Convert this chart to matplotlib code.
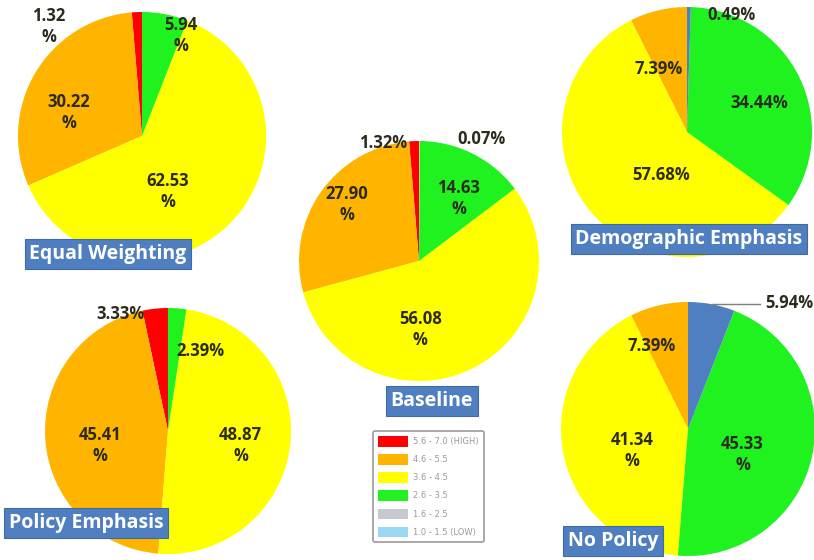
"""Five scenario pies of score classes, with a shared class legend."""

import matplotlib

matplotlib.use("Agg")
import matplotlib.pyplot as plt  # noqa: E402
from matplotlib.patches import Patch  # noqa: E402

W, H = 814, 560

# score classes (legend) and their colours
CLASSES = ["5.6 - 7.0 (HIGH)", "4.6 - 5.5", "3.6 - 4.5", "2.6 - 3.5", "1.6 - 2.5", "1.0 - 1.5 (LOW)"]
CLASS_COLORS = ["#ff0000", "#ffb400", "#ffff00", "#1ff21f", "#c8c8d0", "#9bd8f2"]
OTHER_COLOR = "#4f7fc0"

# scenario values, counter-clockwise from 12 o'clock
equal_vals = [1.32, 30.22, 62.53, 5.94]
equal_cls = [0, 1, 2, 3]
baseline_vals = [1.32, 27.90, 56.08, 14.63, 0.07]
baseline_cls = [0, 1, 2, 3, 4]
demo_vals = [7.39, 57.68, 34.44, 0.49]
demo_cls = [1, 2, 3, -1]
policy_vals = [3.33, 45.41, 48.87, 2.39]
policy_cls = [0, 1, 2, 3]
nopolicy_vals = [7.39, 41.34, 45.33, 5.94]
nopolicy_cls = [1, 2, 3, -1]

# layout: name, values, classes, centre (px, from top-left), radius,
# label offsets in radius units, which labels wrap the "%", title box (x, y centre)
PIES = [
    ("Equal Weighting", equal_vals, equal_cls, (142, 136), 124,
     [(-0.75, 0.88), (-0.59, 0.19), (0.21, -0.45), (0.31, 0.81)],
     [True, True, True, True], (108, 254)),
    ("Baseline", baseline_vals, baseline_cls, (419, 261), 120,
     [(-0.30, 0.98), (-0.60, 0.47), (0.01, -0.57), (0.33, 0.52), (0.52, 1.02)],
     [False, True, True, True, False], (432, 401)),
    ("Demographic Emphasis", demo_vals, demo_cls, (687, 132), 125,
     [(-0.23, 0.50), (-0.21, -0.34), (0.58, 0.23), (0.36, 0.94)],
     [False, False, False, False], (689, 239)),
    ("Policy Emphasis", policy_vals, policy_cls, (168, 431), 123,
     [(-0.39, 0.95), (-0.55, -0.12), (0.59, -0.12), (0.26, 0.65)],
     [False, True, True, False], (86, 523)),
    ("No Policy", nopolicy_vals, nopolicy_cls, (688, 429), 127,
     [(-0.29, 0.65), (-0.44, -0.17), (0.43, -0.20), (0.80, 0.99)],
     [False, True, True, False], (613, 541)),
]


def color_of(c):
    return OTHER_COLOR if c < 0 else CLASS_COLORS[c]


fig = plt.figure(figsize=(W / 100, H / 100), dpi=100)
ax = fig.add_axes([0, 0, 1, 1])

for name, vals, cls, (cx, cy), r, offs, wrap, (bx, by) in PIES:
    ax.pie(vals, colors=[color_of(c) for c in cls], startangle=90, counterclock=True,
           center=(cx, H - cy), radius=r, frame=True,
           wedgeprops=dict(linewidth=0))
    for v, (dx, dy), wr in zip(vals, offs, wrap):
        txt = f"{v:.2f}\n%" if wr else f"{v:.2f}%"
        ax.text(cx + dx * r, H - cy + dy * r, txt, ha="center", va="center",
                fontsize=12, fontweight="bold", color="#2b2b1e",
                family="Open Sans", linespacing=1.2)
    ax.text(bx, H - by, name, ha="center", va="center", fontsize=14,
            fontweight="bold", color="white", family="Open Sans",
            bbox=dict(boxstyle="square,pad=0.25", facecolor="#4f7fc0",
                      edgecolor="#3f6aa5", linewidth=0.8))

# leader line for the small No Policy slice
ax.plot([712, 760], [H - 304, H - 304], color="#7f7f7f", linewidth=1)

handles = [Patch(facecolor=c, edgecolor="none") for c in CLASS_COLORS]
leg = ax.legend(handles, CLASSES, loc="upper left",
                bbox_to_anchor=(369 / W, 1 - 427 / H), fontsize=6,
                handlelength=3.6, handleheight=1.55, handletextpad=0.6,
                labelspacing=0.92, borderpad=0.6, frameon=True, fancybox=True,
                edgecolor="#9a9a9a", framealpha=1)
for t in leg.get_texts():
    t.set_color("#9a9a9a")
leg.get_frame().set_linewidth(1.2)

ax.set_xlim(0, W)
ax.set_ylim(0, H)
ax.set_aspect("equal")
ax.set_axis_off()

fig.savefig("out.png", dpi=100)
